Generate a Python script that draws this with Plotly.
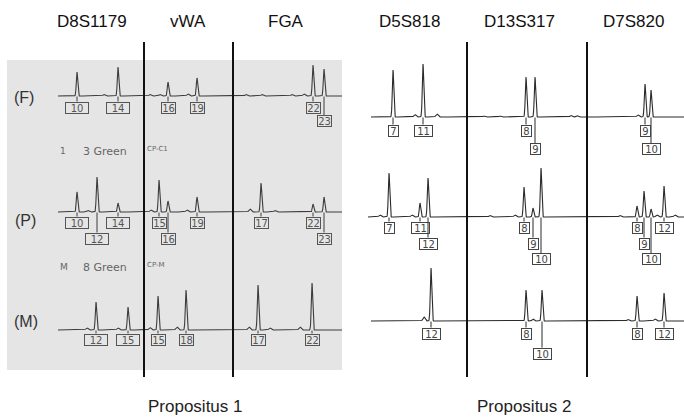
import numpy as np
import plotly.graph_objects as go

# ---------------- data ----------------
SAMPLES = ["(F)", "(P)", "(M)"]
LOCI_LEFT = ["D8S1179", "vWA", "FGA"]
LOCI_RIGHT = ["D5S818", "D13S317", "D7S820"]
PANEL_TITLES = ["Propositus 1", "Propositus 2"]
RUN_TAGS = [("1", "3 Green", "CP-C1"), ("M", "8 Green", "CP-M")]

# Propositus 1 -- father
F1_POS = [77, 118, 168, 197, 313, 324]
F1_HT = [24, 29, 14, 18, 31, 27]
F1_ALLELE = ["10", "14", "16", "19", "22", "23"]
F1_ROW = [1, 1, 1, 1, 1, 2]
F1_MINOR_POS = [104, 150, 160, 188, 246, 262, 292, 304]
F1_MINOR_HT = [1.5, 1.5, 1.5, 2, 1.5, 1.5, 1.5, 2]

# Propositus 1 -- propositus
P1_POS = [77, 97, 118, 159, 168, 197, 261, 313, 324]
P1_HT = [20, 35, 9, 32, 11, 15, 29, 8, 15]
P1_ALLELE = ["10", "12", "14", "15", "16", "19", "17", "22", "23"]
P1_ROW = [1, 2, 1, 1, 2, 1, 1, 1, 2]
P1_MINOR_POS = [88, 151, 187, 250, 275]
P1_MINOR_HT = [1.5, 2, 2, 3, 1.5]

# Propositus 1 -- mother
M1_POS = [96, 128, 158, 186, 258, 312]
M1_HT = [28, 23, 34, 40, 45, 47]
M1_ALLELE = ["12", "15", "15", "18", "17", "22"]
M1_ROW = [1, 1, 1, 1, 1, 1]
M1_MINOR_POS = [87, 118, 150, 177, 249, 270, 300]
M1_MINOR_HT = [2, 2, 2.5, 3, 3, 2, 3]

# Propositus 2 -- father
F2_POS = [393, 423, 526, 535, 645, 651]
F2_HT = [47, 53, 40, 40, 33, 27]
F2_ALLELE = ["7", "11", "8", "9", "9", "10"]
F2_ROW = [1, 1, 1, 2, 1, 2]
F2_MINOR_POS = [415, 437, 484, 500, 571, 577, 638]
F2_MINOR_HT = [2.5, 3, 1, 1, 1.5, 1.5, 2]

# Propositus 2 -- propositus
P2_POS = [389, 420, 428, 524, 533, 541, 637, 644, 651, 664]
P2_HT = [44, 14, 39, 30, 9, 49, 11, 26, 8, 31]
P2_ALLELE = ["7", "11", "12", "8", "9", "10", "8", "9", "10", "12"]
P2_ROW = [1, 1, 2, 1, 2, 3, 1, 2, 3, 1]
P2_MINOR_POS = [380, 412, 490, 515, 620, 657, 675]
P2_MINOR_HT = [2, 2, 1.5, 2, 1.5, 2, 2]

# Propositus 2 -- mother
M2_POS = [431, 526, 542, 637, 664]
M2_HT = [53, 31, 31, 25, 28]
M2_ALLELE = ["12", "8", "10", "8", "12"]
M2_ROW = [1, 1, 2, 1, 1]
M2_MINOR_POS = [424, 533, 628, 655]
M2_MINOR_HT = [4, 2, 1.5, 2]

# ---------------- layout helpers ----------------
W, H = 684, 419
fig = go.Figure()

groups = [
    # pos, ht, allele, row, minor pos, minor ht, x0, x1, baseline, row offsets, side
    (F1_POS, F1_HT, F1_ALLELE, F1_ROW, F1_MINOR_POS, F1_MINOR_HT, 58, 342, 96, [11.5, 25], "L"),
    (P1_POS, P1_HT, P1_ALLELE, P1_ROW, P1_MINOR_POS, P1_MINOR_HT, 58, 342, 212, [10.5, 26.5], "L"),
    (M1_POS, M1_HT, M1_ALLELE, M1_ROW, M1_MINOR_POS, M1_MINOR_HT, 58, 342, 330, [9.5], "L"),
    (F2_POS, F2_HT, F2_ALLELE, F2_ROW, F2_MINOR_POS, F2_MINOR_HT, 371, 684, 117, [13.5, 32], "R"),
    (P2_POS, P2_HT, P2_ALLELE, P2_ROW, P2_MINOR_POS, P2_MINOR_HT, 368, 684, 217, [10.5, 26.5, 42], "R"),
    (M2_POS, M2_HT, M2_ALLELE, M2_ROW, M2_MINOR_POS, M2_MINOR_HT, 371, 684, 321, [12.5, 32.5], "R"),
]

DIV_LEFT = [144, 233]
DIV_RIGHT = [467, 587]

shapes = []
# gray background of propositus 1
shapes.append(dict(type="rect", xref="x", yref="y", x0=7, x1=342, y0=60, y1=370,
                   fillcolor="#e5e5e5", line=dict(width=0), layer="below"))

annotations = []

for pos, ht, allele, row, mpos, mht, x0, x1, base, offs, side in groups:
    color = "#3c3c3c" if side == "L" else "#2b2b2b"
    x = np.arange(x0, x1 + 0.01, 0.2)
    y = np.full_like(x, float(base))
    for p, h in zip(pos, ht):
        y -= h * np.exp(-0.5 * ((x - p) / 0.7) ** 2)
    for p, h in zip(mpos, mht):
        y -= h * np.exp(-0.5 * ((x - p) / 1.1) ** 2)
    fig.add_trace(go.Scatter(x=x, y=y, mode="lines", line=dict(color=color, width=1.1),
                             hoverinfo="skip", showlegend=False))

    cx, cy = [], []
    for p, a, r in zip(pos, allele, row):
        bh = 12
        if side == "L":
            bw = 24 if p < DIV_LEFT[0] else 15
        else:
            bw = 11 if len(a) == 1 else 19
        yc = base + offs[r - 1]
        annotations.append(dict(
            x=p, y=yc, xref="x", yref="y", text=a, showarrow=False,
            width=bw - 2, height=bh - 2, borderwidth=1, borderpad=0,
            bordercolor="#555" if side == "L" else "#444",
            font=dict(family="DejaVu Sans", size=10, color="#555" if side == "L" else "#444"),
            xanchor="center", yanchor="middle"))
        top = yc - bh / 2
        cx += [p, p, None]
        cy += [base + 0.5, top, None]
    fig.add_trace(go.Scatter(x=cx, y=cy, mode="lines", line=dict(color=color, width=1),
                             hoverinfo="skip", showlegend=False))

for xd in DIV_LEFT + DIV_RIGHT:
    shapes.append(dict(type="line", xref="x", yref="y", x0=xd, x1=xd, y0=42, y1=377,
                       line=dict(color="#111", width=2)))

# locus headers
header_x = [92, 188, 286, 409, 519, 633]
for name, hx in zip(LOCI_LEFT + LOCI_RIGHT, header_x):
    annotations.append(dict(x=hx, y=21, xref="x", yref="y", text=name, showarrow=False,
                            font=dict(family="Liberation Sans", size=17, color="#111"),
                            xanchor="center", yanchor="middle"))

# sample labels
for s, (sx, sy) in zip(SAMPLES, [(24, 97), (25, 220), (26, 321)]):
    annotations.append(dict(x=sx, y=sy, xref="x", yref="y", text=s, showarrow=False,
                            font=dict(family="Liberation Sans", size=16, color="#333"),
                            xanchor="center", yanchor="middle"))

# run tags
for (n, g, cp), ty in zip(RUN_TAGS, [151, 267]):
    annotations.append(dict(x=58, y=ty, xref="x", yref="y", text=n, showarrow=False,
                            font=dict(family="DejaVu Sans", size=9, color="#666"),
                            xanchor="left", yanchor="middle"))
    annotations.append(dict(x=81, y=ty, xref="x", yref="y", text=g, showarrow=False,
                            font=dict(family="DejaVu Sans", size=11, color="#666"),
                            xanchor="left", yanchor="middle"))
    annotations.append(dict(x=145, y=ty - 2, xref="x", yref="y", text=cp, showarrow=False,
                            font=dict(family="DejaVu Sans", size=7, color="#666"),
                            xanchor="left", yanchor="middle"))

# panel titles
for t, tx in zip(PANEL_TITLES, [195, 524]):
    annotations.append(dict(x=tx, y=406, xref="x", yref="y", text=t, showarrow=False,
                            font=dict(family="Liberation Sans", size=17, color="#222"),
                            xanchor="center", yanchor="middle"))

fig.update_layout(
    width=W, height=H, margin=dict(l=0, r=0, t=0, b=0),
    paper_bgcolor="white", plot_bgcolor="white",
    xaxis=dict(range=[0, W], visible=False, fixedrange=True),
    yaxis=dict(range=[H, 0], visible=False, fixedrange=True),
    shapes=shapes, annotations=annotations, showlegend=False,
)

fig.write_html("out.html", config={"displayModeBar": False},
               post_script="document.body.style.margin='0px';document.body.style.overflow='hidden';")
